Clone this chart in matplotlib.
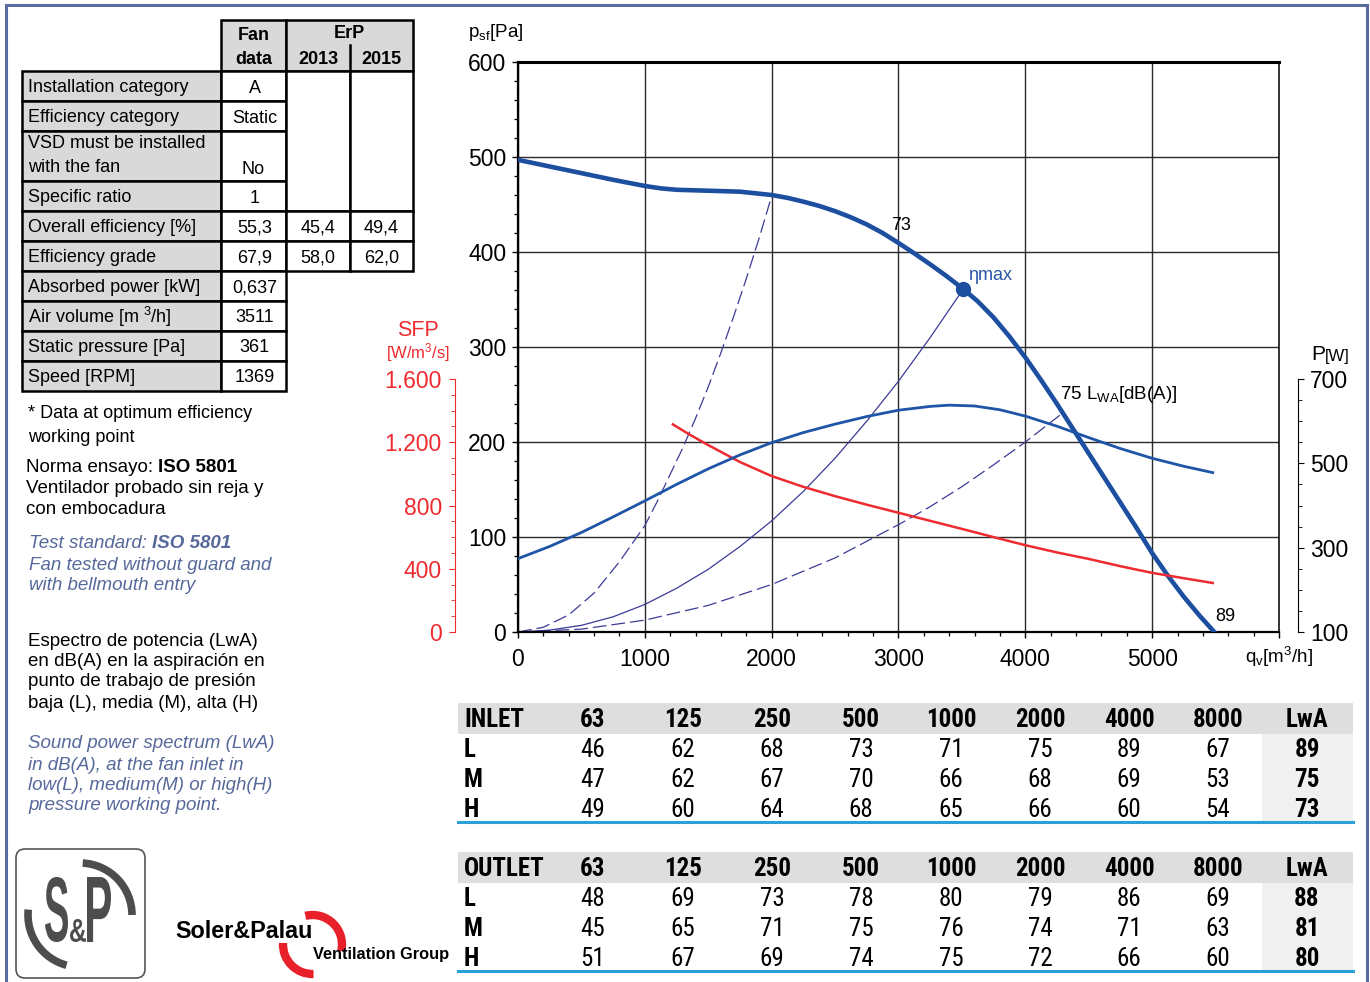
import matplotlib
matplotlib.use('Agg')
import matplotlib.pyplot as plt
from matplotlib.patches import Rectangle, Arc, PathPatch, FancyBboxPatch
from matplotlib.ticker import FixedLocator, FuncFormatter
from matplotlib import font_manager
from matplotlib.font_manager import FontProperties
from matplotlib.textpath import TextPath
from matplotlib.transforms import Affine2D

plt.rcParams['font.family'] = ['Liberation Sans', 'DejaVu Sans']
plt.rcParams['mathtext.fontset'] = 'custom'
plt.rcParams['mathtext.rm'] = 'Liberation Sans'
plt.rcParams['mathtext.it'] = 'Liberation Sans:italic'
plt.rcParams['mathtext.bf'] = 'Liberation Sans:bold'
plt.rcParams['mathtext.default'] = 'regular'


def find_narrow():
    fonts = font_manager.fontManager.ttflist
    names = {f.name for f in fonts}
    for n in ['Liberation Sans Narrow', 'Roboto Condensed', 'Open Sans Condensed', 'Noto Sans Condensed']:
        if n in names:
            return n, 'normal', 18
    for n in ['Roboto', 'Noto Sans', 'Open Sans', 'Liberation Sans', 'Lato', 'Inter']:
        for f in fonts:
            if f.name == n and f.stretch in ('condensed', 'semi-condensed', 'extra-condensed'):
                return n, f.stretch, 18
    return 'Liberation Sans', 'normal', 15


NARROW, NSTRETCH, NSIZE = find_narrow()

# ---- curve data ----
# fan curve, static pressure [Pa] vs air flow [m3/h]
q_fan = [0, 250, 500, 750, 1000, 1125, 1250, 1500, 1750, 2000, 2125, 2250, 2375, 2500,
         2625, 2750, 2875, 3000, 3125, 3250, 3375, 3511, 3625, 3750, 3875, 4000, 4125,
         4250, 4375, 4500, 4625, 4750, 4875, 5000, 5125, 5250, 5375, 5490]
p_fan = [497, 490, 483, 476, 469.5, 467, 465.5, 464.5, 463.5, 460, 457, 453, 448.5, 443,
         436.5, 429, 420, 409.5, 398.5, 387, 375, 361, 348, 331, 311, 289, 265,
         240, 214, 188, 162, 136, 110, 83, 59, 37, 17, 0]
# absorbed power [W]
q_pow = [0, 250, 500, 750, 1000, 1250, 1500, 1750, 2000, 2250, 2500, 2750, 3000, 3250,
         3400, 3600, 3800, 4000, 4250, 4500, 4750, 5000, 5250, 5478]
p_pow = [274, 303, 336, 373, 411, 450, 487, 520, 549, 573, 593, 611, 626, 635,
         638, 636, 627, 612, 588, 561, 535, 512, 493, 478]
# specific fan power [W/m3/s]
q_sfp = [1221, 1350, 1500, 1750, 2000, 2250, 2500, 2750, 3000, 3250, 3500, 3750,
         4000, 4250, 4500, 4750, 5000, 5250, 5478]
sfp = [1313, 1250, 1182, 1075, 986, 918, 859, 805, 754, 703, 652, 600,
       549, 503, 462, 416, 374, 340, 310]
# system curves through the low / optimum / high working points
q_sys_a = [0, 200, 400, 600, 800, 1000, 1100, 1200, 1300, 1400, 1500, 1600, 1700, 1800, 1900, 2000]
p_sys_a = [0, 5, 18, 41, 74, 112, 138, 166, 194, 225, 258, 294, 332, 372, 414, 459]
q_sys_b = [0, 250, 500, 750, 1000, 1250, 1500, 1750, 2000, 2250, 2500, 2750, 3000, 3250, 3511]
p_sys_b = [0, 2, 7, 16, 29, 46, 66, 90, 117, 148, 183, 222, 264, 310, 361]
q_sys_c = [0, 500, 1000, 1500, 2000, 2500, 3000, 3250, 3500, 3750, 4000, 4280]
p_sys_c = [0, 3, 12.5, 28, 50, 78, 113, 132, 153, 176, 200, 229]
eta_q, eta_p = 3511, 361

# ---- fan data table ----
fan_labels = ['Installation category', 'Efficiency category',
              'VSD must be installed\nwith the fan', 'Specific ratio',
              'Overall efficiency [%]', 'Efficiency grade', 'Absorbed power [kW]',
              'Air volume [m $^3$/h]', 'Static pressure [Pa]', 'Speed [RPM]']
fan_values = ['A', 'Static', 'No', '1', '55,3', '67,9', '0,637', '3511', '361', '1369']
erp_2013 = ['45,4', '58,0']
erp_2015 = ['49,4', '62,0']

# ---- sound power tables ----
bands = ['63', '125', '250', '500', '1000', '2000', '4000', '8000']
point_rows = ['L', 'M', 'H']
inlet_vals = [[46, 62, 68, 73, 71, 75, 89, 67],
              [47, 62, 67, 70, 66, 68, 69, 53],
              [49, 60, 64, 68, 65, 66, 60, 54]]
inlet_lwa = [89, 75, 73]
outlet_vals = [[48, 69, 73, 78, 80, 79, 86, 69],
               [45, 65, 71, 75, 76, 74, 71, 63],
               [51, 67, 69, 74, 75, 72, 66, 60]]
outlet_lwa = [88, 81, 80]

BLUE = '#1c4f9f'
NAVY = '#3b3b97'
RED = '#ee2b30'
SLATE = '#56699a'
W, H = 1370, 982

fig = plt.figure(figsize=(W / 100, H / 100), dpi=100)
bg = fig.add_axes([0, 0, 1, 1])
bg.set_xlim(0, W)
bg.set_ylim(H, 0)
bg.set_autoscale_on(False)
bg.axis('off')
renderer = fig.canvas.get_renderer()

# outer frame
for xs, ys in [([6, 6], [H, 5]), ([6, 1367], [5, 5]), ([1367, 1367], [5, H])]:
    bg.plot(xs, ys, color='#5a6b9e', lw=2.2)

# ---- main chart ----
L0, R0, T0, B0 = 518, 1279, 62, 632
ax = fig.add_axes([L0 / W, 1 - B0 / H, (R0 - L0) / W, (B0 - T0) / H])
ax.set_facecolor('none')
ax.set_xlim(0, 6000)
ax.set_ylim(0, 600)
ax.set_axisbelow(True)
ax.xaxis.set_major_locator(FixedLocator(range(0, 6001, 1000)))
ax.xaxis.set_major_formatter(FuncFormatter(lambda v, p: '' if v > 5500 else f'{v:.0f}'))
ax.xaxis.set_minor_locator(FixedLocator([v for v in range(200, 6000, 200) if v % 1000]))
ax.yaxis.set_major_locator(FixedLocator(range(0, 601, 100)))
ax.yaxis.set_minor_locator(FixedLocator([v for v in range(20, 600, 20) if v % 100]))
ax.tick_params(which='major', direction='out', length=4.5, width=1, labelsize=16.5)
ax.tick_params(which='minor', direction='out', length=2.6, width=0.9)
ax.tick_params(axis='x', pad=7)
ax.tick_params(axis='y', pad=4)
ax.grid(which='major', color='#2a2a2a', lw=1.0)
ax.spines['top'].set_linewidth(2.2)
ax.spines['left'].set_linewidth(1.6)
ax.spines['bottom'].set_linewidth(1.6)
ax.spines['right'].set_linewidth(1.1)

ax.plot(q_sys_a, p_sys_a, color=NAVY, lw=0.9, dashes=(11, 4))
ax.plot(q_sys_b, p_sys_b, color=NAVY, lw=0.9)
ax.plot(q_sys_c, p_sys_c, color=NAVY, lw=0.9, dashes=(11, 4))
ax.plot(q_fan, p_fan, color=BLUE, lw=3.3, zorder=5, solid_joinstyle='round')
ax.plot([eta_q], [eta_p], 'o', ms=10, color=BLUE, zorder=6)

ax.text(3020, 428, '73', fontsize=13, ha='center', va='center')
ax.text(3549, 375, 'ηmax', fontsize=13, color='#2a57a8', ha='left', va='center')
ax.text(4274, 250, '75 L$_{WA}$[dB(A)]', fontsize=13.5, ha='left', va='center')
ax.text(5500, 16, '89', fontsize=13, ha='left', va='center')

# SFP axis (left, red)
ax_s = ax.twinx()
ax_s.set_ylim(0, 1600 * (B0 - T0) / 253)
for sp in ['top', 'right', 'bottom']:
    ax_s.spines[sp].set_visible(False)
ax_s.spines['left'].set_visible(True)
ax_s.spines['left'].set_position(('axes', (455 - L0) / (R0 - L0)))
ax_s.spines['left'].set_bounds(0, 1600)
ax_s.spines['left'].set_color(RED)
ax_s.yaxis.set_ticks_position('left')
ax_s.yaxis.set_major_locator(FixedLocator([0, 400, 800, 1200, 1600]))
ax_s.yaxis.set_major_formatter(FuncFormatter(lambda v, p: f'{v:,.0f}'.replace(',', '.')))
ax_s.yaxis.set_minor_locator(FixedLocator([v for v in range(100, 1600, 100) if v % 400]))
ax_s.tick_params(axis='y', which='both', colors=RED, direction='out')
ax_s.tick_params(axis='y', which='major', length=4.5, labelsize=16.5, pad=5)
ax_s.tick_params(axis='y', which='minor', length=2.6)
ax_s.plot(q_sfp, sfp, color=RED, lw=1.8)

# power axis (right)
ax_p = ax.twinx()
ax_p.set_ylim(100, 100 + 600 * (B0 - T0) / 253)
for sp in ['top', 'left', 'bottom']:
    ax_p.spines[sp].set_visible(False)
ax_p.spines['right'].set_position(('axes', (1298 - L0) / (R0 - L0)))
ax_p.spines['right'].set_bounds(100, 700)
ax_p.yaxis.set_major_locator(FixedLocator([100, 300, 500, 700]))
ax_p.yaxis.set_minor_locator(FixedLocator([v for v in range(150, 700, 50) if (v - 100) % 200]))
ax_p.tick_params(axis='y', which='major', direction='out', length=4.5, labelsize=16.5, pad=4)
ax_p.tick_params(axis='y', which='minor', direction='out', length=2.6)
ax_p.plot(q_pow, p_pow, color='#1f55a6', lw=2.0)

# axis titles
bg.text(468, 32, 'p$_{sf}$[Pa]', fontsize=13.5, ha='left', va='center')
bg.text(1245, 657, 'q$_v$[m$^3$/h]', fontsize=13.5, ha='left', va='center')
bg.text(1311, 354, 'P', fontsize=15, ha='left', va='center')
bg.text(1325, 356, '[W]', fontsize=12, ha='left', va='center')
bg.text(418, 330, 'SFP', fontsize=15.5, color=RED, ha='center', va='center')
bg.text(418, 353, '[W/m$^3$/s]', fontsize=12, color=RED, ha='center', va='center')

# ---- fan data table ----
GREY = '#d9d9d9'
LW = 1.8
rows = [71, 101, 131, 181, 211, 241, 271, 301, 331, 361, 391]
XL0, XL1, XF1, XE1, XE2 = 22, 221, 286, 350, 413

bg.add_patch(Rectangle((XL1, 20), XF1 - XL1, 51, fc=GREY, ec='black', lw=LW))
bg.add_patch(Rectangle((XF1, 20), XE2 - XF1, 51, fc=GREY, ec='black', lw=LW))
bg.plot([XE1, XE1], [45, 71], color='black', lw=LW)
bg.text((XL1 + XF1) / 2, 35, 'Fan', fontsize=13, fontweight='bold', ha='center', va='center')
bg.text((XL1 + XF1) / 2, 59, 'data', fontsize=13, fontweight='bold', ha='center', va='center')
bg.text((XF1 + XE2) / 2, 33, 'ErP', fontsize=13, fontweight='bold', ha='center', va='center')
bg.text((XF1 + XE1) / 2, 59, '2013', fontsize=13, fontweight='bold', ha='center', va='center')
bg.text((XE1 + XE2) / 2, 59, '2015', fontsize=13, fontweight='bold', ha='center', va='center')

for i, lab in enumerate(fan_labels):
    y0, y1 = rows[i], rows[i + 1]
    bg.add_patch(Rectangle((XL0, y0), XL1 - XL0, y1 - y0, fc=GREY, ec='black', lw=LW))
    bg.add_patch(Rectangle((XL1, y0), XF1 - XL1, y1 - y0, fc='white', ec='black', lw=LW))
    if '\n' in lab:
        l1, l2 = lab.split('\n')
        bg.text(28, y0 + 12, l1, fontsize=13, ha='left', va='center')
        bg.text(28, y0 + 36, l2, fontsize=13, ha='left', va='center')
        bg.text((XL1 + XF1) / 2, y1 - 12, fan_values[i], fontsize=13, ha='center', va='center')
    else:
        bg.text(28, (y0 + y1) / 2 + 1, lab, fontsize=13, ha='left', va='center')
        bg.text((XL1 + XF1) / 2 + 1, (y0 + y1) / 2 + 2, fan_values[i], fontsize=13,
                ha='center', va='center')

bg.add_patch(Rectangle((XF1, rows[0]), XE1 - XF1, rows[4] - rows[0], fc='white', ec='black', lw=LW))
bg.add_patch(Rectangle((XE1, rows[0]), XE2 - XE1, rows[4] - rows[0], fc='white', ec='black', lw=LW))
for k in range(2):
    y0, y1 = rows[4 + k], rows[5 + k]
    bg.add_patch(Rectangle((XF1, y0), XE1 - XF1, y1 - y0, fc='white', ec='black', lw=LW))
    bg.add_patch(Rectangle((XE1, y0), XE2 - XE1, y1 - y0, fc='white', ec='black', lw=LW))
    bg.text((XF1 + XE1) / 2, (y0 + y1) / 2 + 2, erp_2013[k], fontsize=13, ha='center', va='center')
    bg.text((XE1 + XE2) / 2, (y0 + y1) / 2 + 2, erp_2015[k], fontsize=13, ha='center', va='center')


# ---- notes ----
def rich(x, y, parts, size, color='black', style='normal'):
    for s, weight in parts:
        t = bg.text(x, y, s, fontsize=size, color=color, fontweight=weight,
                    fontstyle=style, ha='left', va='center')
        x += t.get_window_extent(renderer=renderer).width + 0.28 * size * 100 / 72


bg.text(28, 414, '* Data at optimum efficiency', fontsize=13, ha='left', va='center')
bg.text(28, 438, 'working point', fontsize=13, ha='left', va='center')
rich(26, 467, [('Norma ensayo:', 'normal'), ('ISO 5801', 'bold')], 13.5)
bg.text(26, 488, 'Ventilador probado sin reja y', fontsize=13.5, ha='left', va='center')
bg.text(26, 509, 'con embocadura', fontsize=13.5, ha='left', va='center')
rich(29, 544, [('Test standard:', 'normal'), ('ISO 5801', 'bold')], 13.5, SLATE, 'italic')
for yy, s in [(565, 'Fan tested without guard and'), (585, 'with bellmouth entry')]:
    bg.text(29, yy, s, fontsize=13.5, color=SLATE, style='italic', ha='left', va='center')
for yy, s in [(641, 'Espectro de potencia (LwA)'), (662, 'en dB(A) en la aspiración en'),
              (682, 'punto de trabajo de presión'), (703, 'baja (L), media (M), alta (H)')]:
    bg.text(28, yy, s, fontsize=13.5, ha='left', va='center')
for yy, s in [(744, 'Sound power spectrum (LwA)'), (765, 'in dB(A), at the fan inlet in'),
              (785, 'low(L), medium(M) or high(H)'), (806, 'pressure working point.')]:
    bg.text(28, yy, s, fontsize=13.5, color=SLATE, style='italic', ha='left', va='center')

# ---- sound tables ----
col_x = [593, 683, 772, 861, 951, 1040, 1129, 1218]
lwa_x = 1307
nkw = dict(fontsize=NSIZE, family=NARROW, fontstretch=NSTRETCH, va='center')


def sound_table(top, title, vals, lwa):
    bg.add_patch(Rectangle((458, top), 895, 31, fc='#dedede', ec='none'))
    bg.add_patch(Rectangle((1262, top + 31), 91, 88, fc='#f0f0f0', ec='none'))
    bg.plot([458, 1353], [top + 119, top + 119], color='#2a9fd8', lw=2.2)
    yh = top + 17
    bg.text(464, yh, title, fontweight='bold', ha='left', **nkw)
    for x, b in zip(col_x, bands):
        bg.text(x, yh, b, fontweight='bold', ha='center', **nkw)
    bg.text(lwa_x, yh, 'LwA', fontweight='bold', ha='center', **nkw)
    for r, (name, row, tot) in enumerate(zip(point_rows, vals, lwa)):
        yy = yh + 30 * (r + 1)
        bg.text(464, yy, name, fontweight='bold', ha='left', **nkw)
        for x, v in zip(col_x, row):
            bg.text(x, yy, str(v), ha='center', **nkw)
        bg.text(lwa_x, yy, str(tot), fontweight='bold', ha='center', **nkw)


sound_table(703, 'INLET', inlet_vals, inlet_lwa)
sound_table(852, 'OUTLET', outlet_vals, outlet_lwa)


# ---- logos ----
def glyph(s, x0, y0, x1, y1, color, prop):
    tp = TextPath((0, 0), s, size=100, prop=prop)
    ext = tp.get_extents()
    tr = Affine2D().translate(-ext.x0, -ext.y1).scale((x1 - x0) / ext.width,
                                                       -(y1 - y0) / ext.height).translate(x0, y0)
    bg.add_patch(PathPatch(tr.transform_path(tp), fc=color, ec='none'))


LOGO = '#4d4d4d'
bg.add_patch(FancyBboxPatch((16, 849), 129, 129, boxstyle='round,pad=0,rounding_size=9',
                            fc='white', ec='#555555', lw=1.2))
fp = FontProperties(family='Liberation Sans', weight='bold')
glyph('S', 45, 877, 68, 942, LOGO, fp)
glyph('&', 70, 919, 86, 942, LOGO, fp)
glyph('P', 87, 877, 111, 942, LOGO, fp)
bg.add_patch(Arc((80, 915), 104, 104, theta1=-87, theta2=0, color=LOGO, lw=5.5))
bg.add_patch(Arc((80, 915), 104, 104, theta1=-255, theta2=-174, color=LOGO, lw=5.5))

bg.add_patch(Arc((312.5, 944.5), 59, 59, theta1=-104, theta2=13, color='#e8202a', lw=6))
bg.add_patch(Arc((312.5, 944.5), 59, 59, theta1=-272, theta2=-177, color='#e8202a', lw=6))
bg.text(175, 932, 'Soler&Palau', fontsize=16.8, fontweight='bold', ha='left', va='center')
bg.text(313, 955, 'Ventilation Group', fontsize=11.8, fontweight='bold', ha='left', va='center')

fig.savefig('out.png', dpi=100, facecolor='white')
